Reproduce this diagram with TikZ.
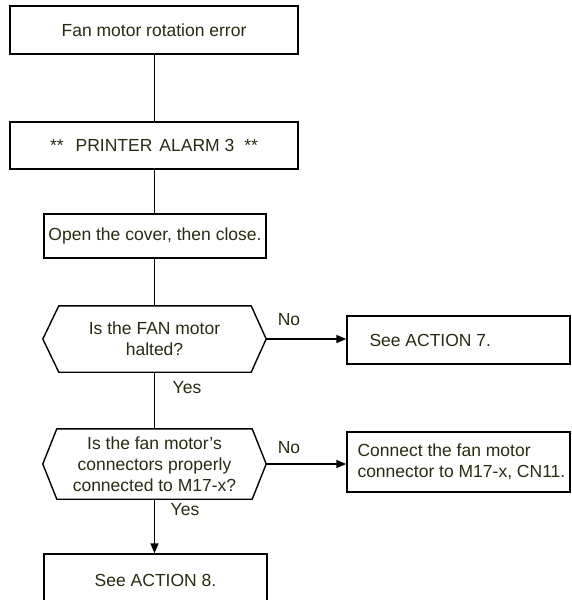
\documentclass[tikz,border=0pt]{standalone}
\usepackage{fontspec}
\setmainfont{Liberation Sans}
\usetikzlibrary{arrows.meta}
\definecolor{txt}{HTML}{2A2A12}
\begin{document}
\begin{tikzpicture}[x=1pt,y=-1pt,
  font=\fontsize{17.5}{21}\selectfont, text=txt,
  box/.style={draw=black, line width=1.4pt, rectangle, inner sep=0pt, align=center},
  hexnode/.style={rectangle, inner sep=0pt, align=center, minimum width=223pt},
  conn/.style={line width=1.4pt, draw=black},
  arr/.style={conn, -{Triangle[length=10pt,width=8pt]}},
  lbl/.style={inner sep=0pt}]
\clip (0,0) rectangle (571,600);
% boxes
\node[box, minimum width=288pt, minimum height=48pt] (b1) at (154,30) {Fan motor rotation error};
\node[box, minimum width=288pt, minimum height=47pt] (b2) at (154,145.5) {**\hspace{12pt}PRINTER\hspace{7pt}ALARM 3\hspace{10pt}**};
\node[box, minimum width=222pt, minimum height=44pt] (b3) at (155,236) {Open the cover, then close.};
\node[hexnode, minimum height=66pt] (h1) at (154.5,339) {Is the FAN motor\\halted?};
\node[hexnode, minimum height=70pt] (h2) at (154.5,464) {Is the fan motor's\\connectors properly\\connected to M17-x?};
\node[box, minimum width=223pt, minimum height=52pt] (b4) at (155.5,580) {See ACTION 8.};
\node[box, minimum width=223pt, minimum height=48pt,
  label={[anchor=west, inner sep=0pt, xshift=23pt]west:See ACTION 7.}] (r1) at (458.5,340) {};
\node[box, minimum width=223pt, minimum height=60pt,
  label={[anchor=west, inner sep=0pt, xshift=11pt, align=left]west:Connect the fan motor\\connector to M17-x, CN11.}] (r2) at (458.5,462) {};
% hexagons
\draw[conn] (h1.west) -- ([xshift=16pt]h1.north west) -- ([xshift=-15pt]h1.north east) -- (h1.east) -- ([xshift=-15pt]h1.south east) -- ([xshift=16pt]h1.south west) -- cycle;
\draw[conn] (h2.west) -- ([xshift=14pt]h2.north west) -- ([xshift=-14pt]h2.north east) -- (h2.east) -- ([xshift=-14pt]h2.south east) -- ([xshift=14pt]h2.south west) -- cycle;
% connectors
\draw[conn] (b1.south -| h1.north) -- (b2.north -| h1.north);
\draw[conn] (b2.south -| h1.north) -- (b3.north -| h1.north);
\draw[conn] (b3.south -| h1.north) -- (h1.north);
\draw[conn] (h1.south) -- (h2.north);
\draw[arr] (h2.south) -- (b4.north -| h2.south);
\draw[arr] (h1.east) -- (h1.east -| r1.west);
\draw[arr] (h2.east) -- (h2.east -| r2.west);
% labels
\node[lbl] (no1) at (289,320) {No};
\node[lbl] (no2) at (289,448) {No};
\node[lbl] (yes1) at (187,388) {Yes};
\node[lbl] (yes2) at (185,510) {Yes};
\end{tikzpicture}
\end{document}
